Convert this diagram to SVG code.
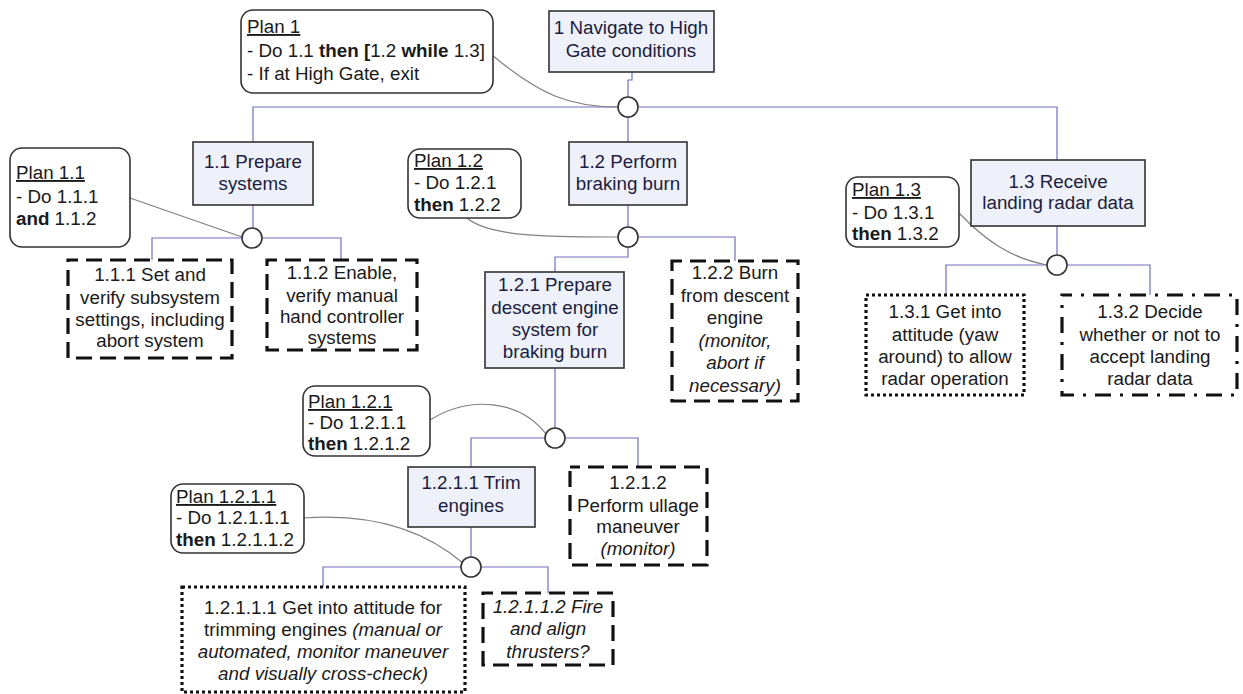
<svg xmlns="http://www.w3.org/2000/svg" width="1243" height="694" viewBox="0 0 1243 694">
  <style>
    text { font-family: "Liberation Sans", Arial, sans-serif; font-size: 18.8px; fill: #1a1a1a; }
    .node rect { fill: #eef1fa; stroke: #333; stroke-width: 1.6; }
    .node text { fill: #1c1c40; text-anchor: middle; }
    .plan rect { fill: #fff; stroke: #333; stroke-width: 1.6; }
    .leaf text { text-anchor: middle; }
    .dash { fill: #fff; stroke: #111; stroke-width: 3.2; stroke-dasharray: 16 8; stroke-dashoffset: 6; }
    .dot { fill: #fff; stroke: #111; stroke-width: 3.2; stroke-dasharray: 3 3; }
    .dashdot { fill: #fff; stroke: #111; stroke-width: 3.2; stroke-dasharray: 16 9 3 9; stroke-dashoffset: 6; }
    .link { fill: none; stroke: #6f6fc0; stroke-width: 1.2; }
    .plink { fill: none; stroke: #808080; stroke-width: 1.2; }
    .junction { fill: #fff; stroke: #333; stroke-width: 1.6; }
    .b { font-weight: bold; }
    .i { font-style: italic; }
    .u { text-decoration: underline; }
  </style>

  <rect width="1243" height="694" fill="#fff"/>

  <!-- connectors -->
  <g id="connectors">
    <path class="link" d="M632,72 V80 H628 V97"/>
    <path class="link" d="M253,142 V107 H1057 V160"/>
    <path class="link" d="M628,117 V142"/>
    <path class="link" d="M253,205 V228"/>
    <path class="link" d="M152,260 V238 H341 V260"/>
    <path class="link" d="M628,205 V227"/>
    <path class="link" d="M638,237 H735 V261"/>
    <path class="link" d="M628,247 V257 H555 V272"/>
    <path class="link" d="M555,368 V428"/>
    <path class="link" d="M471,467 V438 H638 V467"/>
    <path class="link" d="M471,527 V557"/>
    <path class="link" d="M323,587 V567 H548 V593"/>
    <path class="link" d="M1057,226 V255"/>
    <path class="link" d="M946,295 V265 H1150 V295"/>

    <path class="plink" d="M492,55 C540,95 570,107 618,107"/>
    <path class="plink" d="M130,198 L242,237"/>
    <path class="plink" d="M467,218 C490,238 560,237 618,237"/>
    <path class="plink" d="M430,420 C470,395 520,400 546,434"/>
    <path class="plink" d="M303,518 C380,512 430,535 463,563"/>
    <path class="plink" d="M959,213 C985,240 1010,258 1047,265"/>

    <circle class="junction" cx="628" cy="107" r="10"/>
    <circle class="junction" cx="252" cy="238" r="10"/>
    <circle class="junction" cx="628" cy="237" r="10"/>
    <circle class="junction" cx="555" cy="438" r="10"/>
    <circle class="junction" cx="471" cy="567" r="10"/>
    <circle class="junction" cx="1057" cy="265" r="10"/>
  </g>

  <!-- plans -->
  <g id="plan-1" class="plan">
    <rect x="241" y="10" width="252" height="83" rx="12"/>
    <text x="247" y="33"><tspan class="u">Plan 1</tspan></text>
    <text x="247" y="57">- Do 1.1 <tspan class="b">then [</tspan>1.2 <tspan class="b">while</tspan> 1.3]</text>
    <text x="247" y="80">- If at High Gate, exit</text>
  </g>
  <g id="plan-1-1" class="plan">
    <rect x="10" y="148" width="120" height="99" rx="12"/>
    <text x="16" y="179"><tspan class="u">Plan 1.1</tspan></text>
    <text x="16" y="203">- Do 1.1.1</text>
    <text x="16" y="225"><tspan class="b">and</tspan> 1.1.2</text>
  </g>
  <g id="plan-1-2" class="plan">
    <rect x="408" y="149" width="113" height="69" rx="12"/>
    <text x="414" y="167"><tspan class="u">Plan 1.2</tspan></text>
    <text x="414" y="189">- Do 1.2.1</text>
    <text x="414" y="211"><tspan class="b">then</tspan> 1.2.2</text>
  </g>
  <g id="plan-1-3" class="plan">
    <rect x="846" y="177" width="113" height="70" rx="12"/>
    <text x="852" y="196"><tspan class="u">Plan 1.3</tspan></text>
    <text x="852" y="219">- Do 1.3.1</text>
    <text x="852" y="240"><tspan class="b">then</tspan> 1.3.2</text>
  </g>
  <g id="plan-1-2-1" class="plan">
    <rect x="303" y="386" width="127" height="70" rx="12"/>
    <text x="308" y="408"><tspan class="u">Plan 1.2.1</tspan></text>
    <text x="308" y="429">- Do 1.2.1.1</text>
    <text x="308" y="450"><tspan class="b">then</tspan> 1.2.1.2</text>
  </g>
  <g id="plan-1-2-1-1" class="plan">
    <rect x="171" y="484" width="133" height="69" rx="12"/>
    <text x="176" y="503"><tspan class="u">Plan 1.2.1.1</tspan></text>
    <text x="176" y="524">- Do 1.2.1.1.1</text>
    <text x="176" y="546"><tspan class="b">then</tspan> 1.2.1.1.2</text>
  </g>

  <!-- task nodes -->
  <g id="task-1" class="node">
    <rect x="549" y="11" width="165" height="61"/>
    <text x="631" y="34">1 Navigate to High</text>
    <text x="631" y="57">Gate conditions</text>
  </g>
  <g id="task-1-1" class="node">
    <rect x="193" y="142" width="120" height="63"/>
    <text x="253" y="168">1.1 Prepare</text>
    <text x="253" y="190">systems</text>
  </g>
  <g id="task-1-2" class="node">
    <rect x="569" y="142" width="118" height="63"/>
    <text x="628" y="168">1.2 Perform</text>
    <text x="628" y="190">braking burn</text>
  </g>
  <g id="task-1-3" class="node">
    <rect x="971" y="160" width="174" height="66"/>
    <text x="1058" y="188">1.3 Receive</text>
    <text x="1058" y="209">landing radar data</text>
  </g>
  <g id="task-1-2-1" class="node">
    <rect x="485" y="272" width="139" height="96"/>
    <text x="555" y="291">1.2.1 Prepare</text>
    <text x="555" y="314">descent engine</text>
    <text x="555" y="336">system for</text>
    <text x="555" y="358">braking burn</text>
  </g>
  <g id="task-1-2-1-1" class="node">
    <rect x="408" y="467" width="127" height="60"/>
    <text x="471" y="489">1.2.1.1 Trim</text>
    <text x="471" y="512">engines</text>
  </g>

  <!-- leaf tasks -->
  <g id="task-1-1-1" class="leaf">
    <rect class="dash" x="68" y="260" width="164" height="98"/>
    <text x="150" y="281">1.1.1 Set and</text>
    <text x="150" y="304">verify subsystem</text>
    <text x="150" y="326">settings, including</text>
    <text x="150" y="347">abort system</text>
  </g>
  <g id="task-1-1-2" class="leaf">
    <rect class="dash" x="267" y="260" width="150" height="90"/>
    <text x="342" y="279">1.1.2 Enable,</text>
    <text x="342" y="302">verify manual</text>
    <text x="342" y="323">hand controller</text>
    <text x="342" y="344">systems</text>
  </g>
  <g id="task-1-2-2" class="leaf">
    <rect class="dash" x="672" y="261" width="126" height="140"/>
    <text x="735" y="279">1.2.2 Burn</text>
    <text x="735" y="302">from descent</text>
    <text x="735" y="324">engine</text>
    <text x="735" y="347" class="i">(monitor,</text>
    <text x="735" y="369" class="i">abort if</text>
    <text x="735" y="392" class="i">necessary)</text>
  </g>
  <g id="task-1-3-1" class="leaf">
    <rect class="dot" x="866" y="295" width="158" height="100"/>
    <text x="945" y="318">1.3.1 Get into</text>
    <text x="945" y="341">attitude (yaw</text>
    <text x="945" y="363">around) to allow</text>
    <text x="945" y="385">radar operation</text>
  </g>
  <g id="task-1-3-2" class="leaf">
    <rect class="dashdot" x="1062" y="295" width="175" height="100"/>
    <text x="1150" y="318">1.3.2 Decide</text>
    <text x="1150" y="341">whether or not to</text>
    <text x="1150" y="363">accept landing</text>
    <text x="1150" y="385">radar data</text>
  </g>
  <g id="task-1-2-1-2" class="leaf">
    <rect class="dash" x="570" y="467" width="137" height="98"/>
    <text x="638" y="489">1.2.1.2</text>
    <text x="638" y="512">Perform ullage</text>
    <text x="638" y="533">maneuver</text>
    <text x="638" y="555" class="i">(monitor)</text>
  </g>
  <g id="task-1-2-1-1-1" class="leaf">
    <rect class="dot" x="182" y="587" width="283" height="105"/>
    <text x="323" y="614">1.2.1.1.1 Get into attitude for</text>
    <text x="323" y="636">trimming engines <tspan class="i">(manual or</tspan></text>
    <text x="323" y="658" class="i">automated, monitor maneuver</text>
    <text x="323" y="680" class="i">and visually cross-check)</text>
  </g>
  <g id="task-1-2-1-1-2" class="leaf">
    <rect class="dash" x="483" y="593" width="130" height="72"/>
    <text x="548" y="613" class="i">1.2.1.1.2 Fire</text>
    <text x="548" y="635" class="i">and align</text>
    <text x="548" y="658" class="i">thrusters?</text>
  </g>
</svg>
